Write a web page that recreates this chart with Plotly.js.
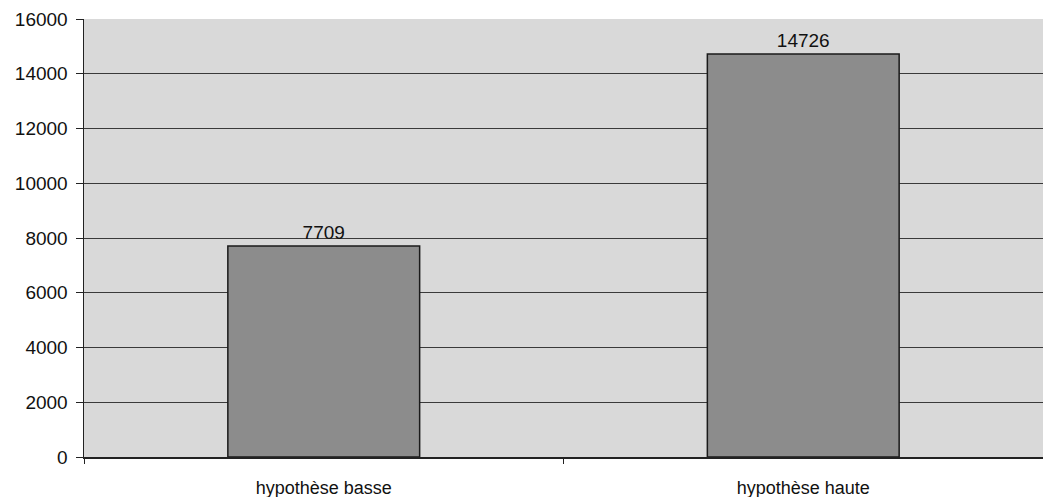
<!DOCTYPE html>
<html>
<head>
<meta charset="utf-8">
<script src="https://cdn.plot.ly/plotly-3.0.1.min.js"></script>
<style>html,body{margin:0;padding:0;background:#fff;}#chart{width:1043px;height:497px;}</style>
</head>
<body>
<div id="chart"></div>
<script>
const categories = ["hypothèse basse", "hypothèse haute"];
const values = [7709, 14726];
const yTicks = [0, 2000, 4000, 6000, 8000, 10000, 12000, 14000, 16000];

const trace = {
  type: "bar",
  x: categories,
  y: values,
  text: values.map(String),
  textposition: "outside",
  cliponaxis: false,
  textfont: {family: "Liberation Sans, Arial, sans-serif", size: 19, color: "#111"},
  marker: {color: "#8c8c8c", line: {color: "#1a1a1a", width: 1.5}},
  hoverinfo: "x+y"
};

const layout = {
  width: 1043,
  height: 497,
  margin: {l: 84, r: 0, t: 19, b: 40},
  paper_bgcolor: "#ffffff",
  plot_bgcolor: "#d9d9d9",
  bargap: 0.6,
  showlegend: false,
  font: {family: "Liberation Sans, Arial, sans-serif", size: 19, color: "#111"},
  xaxis: {
    type: "category",
    tickson: "boundaries",
    ticks: "outside",
    ticklen: 5,
    tickcolor: "#222",
    showline: true,
    linecolor: "#222",
    linewidth: 1.5,
    showgrid: false,
    tickfont: {size: 18},
    ticklabelstandoff: 14,
    fixedrange: true
  },
  yaxis: {
    range: [0, 16000],
    tickvals: yTicks,
    ticktext: yTicks.map(String),
    ticks: "outside",
    ticklen: 7,
    tickcolor: "#222",
    showline: true,
    linecolor: "#222",
    linewidth: 1.5,
    showgrid: true,
    gridcolor: "#3a3a3a",
    gridwidth: 1,
    zeroline: false,
    tickfont: {size: 19},
    ticklabelstandoff: 4,
    fixedrange: true
  }
};

Plotly.newPlot("chart", [trace], layout, {displayModeBar: false, staticPlot: true});
</script>
</body>
</html>
